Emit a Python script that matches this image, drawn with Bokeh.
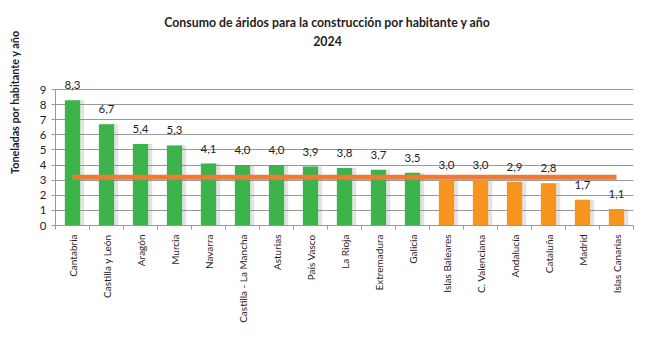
import numpy as np
from bokeh.plotting import figure
from bokeh.layouts import row
from bokeh.models import ColumnDataSource, FixedTicker, Range1d
from bokeh.transform import dodge
from bokeh.core.properties import value
from bokeh.embed import file_html
from bokeh.resources import INLINE

regiones = ["Cantabria", "Castilla y León", "Aragón", "Murcia", "Navarra",
            "Castilla - La Mancha", "Asturias", "País Vasco", "La Rioja",
            "Extremadura", "Galicia", "Islas Baleares", "C. Valenciana",
            "Andalucía", "Cataluña", "Madrid", "Islas Canarias"]
consumo = [8.3, 6.7, 5.4, 5.3, 4.1, 4.0, 4.0, 3.9, 3.8, 3.7, 3.5,
           3.0, 3.0, 2.9, 2.8, 1.7, 1.1]
media = 3.2
y_ticks = [0, 1, 2, 3, 4, 5, 6, 7, 8, 9]
titulo = "Consumo de áridos para la construcción por habitante y año"
subtitulo = "2024"
eje_y = "Toneladas por habitante y año"

GREEN = "#3CB44B"
ORANGE = "#F7941D"
LINE = "#EE7A35"
FONT = "Lato"
TXT = "#1E1E1E"

W, H = 667, 348
LAB_W = 24
BOTTOM = 123
n = len(regiones)
xs = [i + 0.5 for i in range(n)]
colors = [GREEN if v > media else ORANGE for v in consumo]
labels = [f"{v:.1f}".replace(".", ",") for v in consumo]
src = ColumnDataSource(dict(x=xs, y=consumo, c=colors, lab=labels))

# narrow panel holding the rotated value-axis title
lab = figure(width=LAB_W, height=H, output_backend="svg", toolbar_location=None,
             x_range=Range1d(0, LAB_W), y_range=Range1d(0, H),
             min_border=0, x_axis_type=None, y_axis_type=None)
lab.outline_line_color = None
lab.grid.visible = False
lab.text(x=[14], y=[H - 157], text=[eje_y], angle=np.pi / 2,
         text_align="center", text_baseline="middle", text_font=value(FONT),
         text_font_size="10.8px", text_font_style="bold", text_color=TXT)

# main chart: frame spans full height above the x axis so the title block fits
Y_TOP = 14.9
p = figure(width=W - LAB_W, height=H, output_backend="svg", toolbar_location=None,
           x_range=Range1d(0, n), y_range=Range1d(0, Y_TOP),
           min_border_left=55 - LAB_W, min_border_right=34, min_border_top=0,
           min_border_bottom=BOTTOM)
p.outline_line_color = None
p.background_fill_color = "white"
p.border_fill_color = "white"

# shadows
p.vbar(x=dodge("x", 0.12, range=p.x_range), top="y", width=0.45, source=src,
       fill_color="#808080", fill_alpha=0.22, line_color=None)
p.vbar(x="x", top="y", width=0.45, source=src, fill_color="c", line_color=None)

p.line(x=[xs[0], xs[-1]], y=[media, media], line_color=LINE, line_width=5)

p.text(x="x", y="y", text="lab", source=src, text_align="center",
       text_baseline="bottom", y_offset=-11, text_font=value(FONT),
       text_font_size="11.5px", text_color=TXT)

# title block
p.text(x=[n / 2 - 0.5, n / 2 - 0.5],
       y=[13.45, 12.25], text=[titulo, subtitulo],
       text_align="center", text_baseline="middle", text_font=value(FONT),
       text_font_size="12.3px", text_font_style="bold", text_color=TXT)

# axes
p.yaxis.ticker = FixedTicker(ticks=y_ticks)
p.yaxis.bounds = (0, 9)
p.yaxis.major_label_text_font = FONT
p.yaxis.major_label_text_font_size = "11.5px"
p.yaxis.major_label_text_color = TXT
p.yaxis.axis_line_color = "#999999"
p.yaxis.major_tick_line_color = "#999999"
p.yaxis.major_tick_out = 4
p.yaxis.major_tick_in = 0
p.yaxis.minor_tick_line_color = None

p.xaxis.ticker = FixedTicker(ticks=xs, minor_ticks=list(range(n + 1)))
p.xaxis.major_label_overrides = {x: r for x, r in zip(xs, regiones)}
p.xaxis.major_label_orientation = np.pi / 2
p.xaxis.major_label_text_font = FONT
p.xaxis.major_label_text_font_size = "10px"
p.xaxis.major_label_text_color = TXT
p.xaxis.major_tick_line_color = None
p.xaxis.minor_tick_line_color = "#999999"
p.xaxis.minor_tick_out = 4
p.xaxis.minor_tick_in = 0
p.xaxis.axis_line_color = "#999999"
p.xaxis.major_label_standoff = 3

p.xgrid.grid_line_color = None
p.ygrid.ticker = FixedTicker(ticks=y_ticks)
p.ygrid.grid_line_color = "#999999"

layout = row(lab, p, spacing=0)
open("out.html", "w").write(file_html(layout, INLINE))
